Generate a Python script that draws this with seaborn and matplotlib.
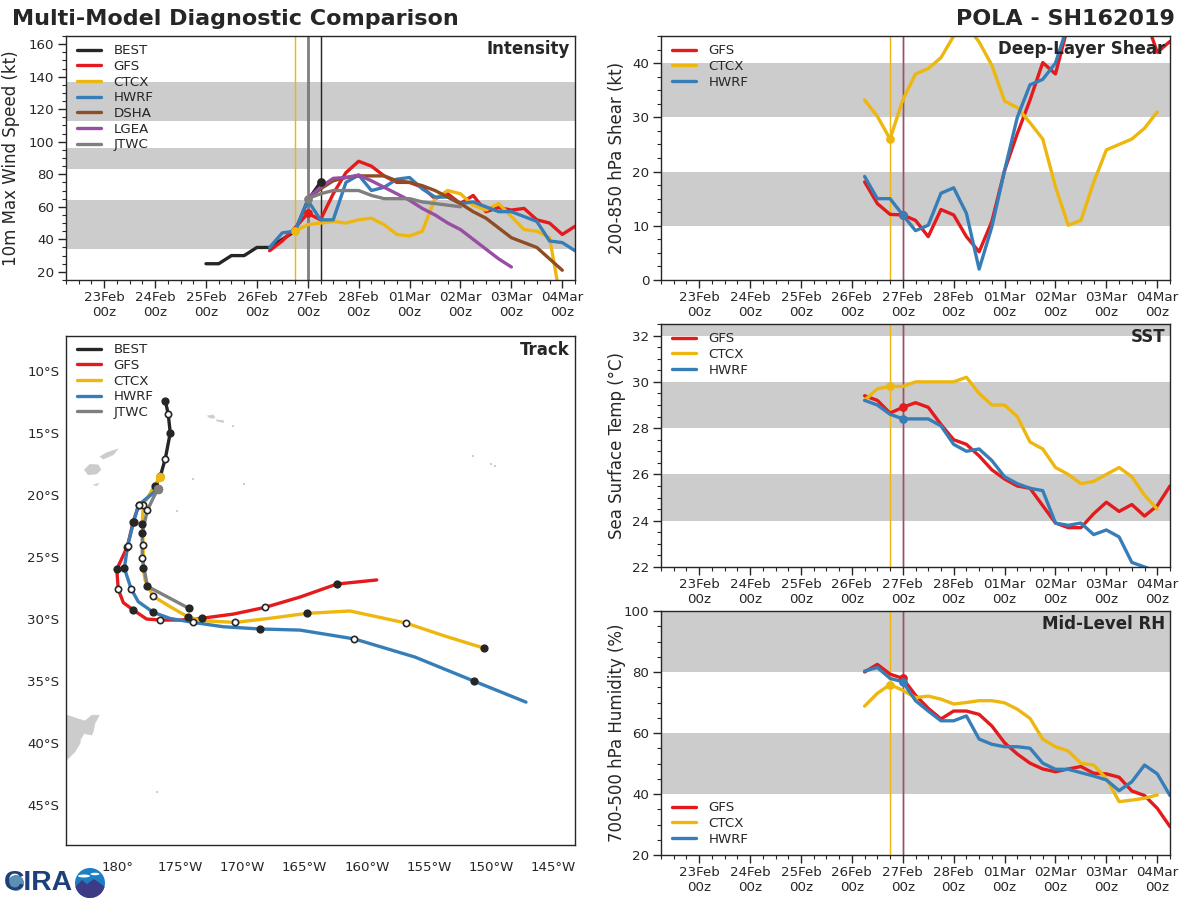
"""
Multi-model diagnostic comparison, POLA SH162019
"""
import numpy as np
import pandas as pd
import seaborn as sns
import matplotlib
matplotlib.use('Agg')
import matplotlib.pyplot as plt
import matplotlib.dates as mdates
from matplotlib.patches import Circle, Ellipse, Polygon
from matplotlib.ticker import MultipleLocator

# ========== intensity (kt), 6-hourly ==========
best_vmax = [25, 25, 30, 30, 35, 35, 40, 45, 64, 75]
gfs_vmax = [33, 39, 47, 56, 52, 68, 81, 88, 85, 79, 75, 75, 72, 65, 68, 62, 67, 57, 59.5, 58, 59, 52, 50, 43, 48]
ctcx_vmax = [45, 49, 50, 51, 50, 52, 53, 49, 43, 42, 45, 65, 70, 68, 61, 58, 62, 54, 46, 45, 41, -3]
hwrf_vmax = [35, 44, 45, 64, 52, 52, 75, 79.5, 70, 72, 77, 78, 71, 66, 66, 62, 63, 60, 57, 57, 54, 51, 39, 38, 33]
dsha_vmax = [65, 71, 76, 78, 79, 79, 79, 76, 75, 73, 70, 66, 62, 57, 53, 47, 41, 38, 35, 28, 21]
lgea_vmax = [65, 72, 77.5, 78, 79.5, 76, 72, 68, 64, 59, 55, 50, 46, 40, 34, 28, 23]
jtwc_vmax = [65, 68, 70, 70, 70, 67, 65, 65, 65, 63, 62, 61, 60]

# ========== shear (kt) ==========
gfs_shear = [18.1, 14.1, 12.1, 12, 11, 8, 13, 12, 8, 5.2, 10.8, 20.2, 27, 33.2, 40.1, 38, 47, 50, 52, 52, 52, 50, 48.7, 42, 44]
ctcx_shear = [33.2, 30.2, 26, 33.2, 38, 39, 41, 45, 47, 43.9, 39.6, 33, 31.8, 29, 26, 17.2, 10.1, 11, 18, 24, 25, 26, 28, 31]
hwrf_shear = [19.1, 15, 15, 12, 9.1, 10.1, 16, 17, 12.3, 2, 9.8, 20.2, 30, 36, 37, 40, 47.3, 52]

# ========== SST (C) ==========
gfs_sst = [29.4, 29.2, 28.65, 28.9, 29.1, 28.9, 28.16, 27.5, 27.3, 26.8, 26.2, 25.8, 25.5, 25.4, 24.65, 23.9, 23.7, 23.7, 24.3, 24.8, 24.4, 24.7, 24.2, 24.65, 25.5]
ctcx_sst = [29.2, 29.7, 29.8, 29.8, 30, 30, 30, 30, 30.2, 29.5, 29, 29, 28.5, 27.4, 27.1, 26.3, 26, 25.6, 25.7, 26, 26.3, 25.9, 25.1, 24.5]
hwrf_sst = [29.2, 29, 28.6, 28.4, 28.4, 28.4, 28.1, 27.3, 27, 27.1, 26.6, 25.9, 25.6, 25.4, 25.3, 23.9, 23.8, 23.9, 23.4, 23.6, 23.3, 22.2, 22, 21.8]

# ========== mid-level RH (%) ==========
gfs_rh = [80, 82.5, 79.3, 77.9, 72.4, 68.1, 64.6, 67.2, 67.2, 66.1, 62.3, 56.8, 53.1, 50.1, 48.2, 47.3, 48.2, 49, 46.8, 46.6, 45.5, 41, 39.5, 35.3, 29.3]
ctcx_rh = [68.8, 73, 75.9, 74, 71.6, 72.1, 71.1, 69.5, 70, 70.6, 70.6, 69.9, 67.8, 64.8, 58, 55.5, 54.1, 50.1, 49.5, 45.1, 37.5, 38, 38.6, 39.7]
hwrf_rh = [80.3, 81.5, 77.9, 76.8, 70.6, 67.2, 64, 64, 65.6, 58, 56.3, 55.5, 55.5, 55, 50.1, 48.1, 48.1, 47, 45.9, 44.6, 41.1, 44, 49.5, 46.6, 39.5]

# ========== tracks, i = init, f = filled dot, o = open dot ==========
best_lon = [183.8, 184.04, 184.2, 183.8, 183.4, 183.0]
best_lat = [-12.4, -13.5, -15.0, -17.1, -18.5, -19.3]
best_mark = "fofoof"

gfs_lon = [183.2, 181.65, 181.23, 180.75, 179.9, 180.02, 180.43, 181.23, 182.3, 183.38, 185.0, 186.73, 189.27, 191.82, 194.63, 197.6, 200.8]
gfs_lat = [-19.5, -20.85, -22.15, -24.17, -26.0, -27.6, -28.68, -29.27, -30.0, -30.08, -30.08, -29.94, -29.6, -29.06, -28.23, -27.18, -26.85]
gfs_mark = "iofofo.f.o.f.o.f."

hwrf_lon = [183.2, 181.65, 181.26, 180.78, 180.51, 181.07, 181.63, 182.84, 184.18, 186.05, 188.46, 191.44, 194.63, 199.0, 203.87, 208.62, 212.8]
hwrf_lat = [-19.5, -20.85, -22.15, -24.09, -25.91, -27.6, -28.6, -29.46, -29.95, -30.27, -30.62, -30.8, -30.89, -31.6, -33.06, -35.0, -36.69]
hwrf_mark = "iofofo.f.o.f.o.f."

ctcx_lon = [183.4, 182.03, 181.95, 182.03, 182.03, 182.17, 182.84, 184.18, 185.65, 186.86, 189.43, 192.2, 195.2, 198.65, 203.15, 206.28, 209.42]
ctcx_lat = [-18.52, -20.8, -22.36, -24.03, -25.91, -26.85, -28.17, -29.0, -29.84, -30.14, -30.27, -29.94, -29.54, -29.35, -30.32, -31.37, -32.34]
ctcx_mark = "iofof.o.f.o.f.o.f"

jtwc_lon = [183.2, 182.36, 181.95, 181.95, 182.36, 185.71]
jtwc_lat = [-19.5, -21.23, -23.09, -25.1, -27.36, -29.14]
jtwc_mark = "iofoff"

# ========== land ==========
land_polys = [
    # New Zealand, north island
    ([175.34, 175.92, 176.68, 177.35, 177.89, 178.5, 178.15, 178.01, 177.89, 177.27, 177.0, 176.95, 176.54, 175.92, 175.34],
     [-37.74, -37.74, -38.0, -38.2, -37.74, -37.74, -38.41, -39.09, -39.35, -39.22, -39.7, -40.02, -40.7, -41.31, -41.85]),
    # Fiji
    ([177.29, 177.75, 178.42, 178.63, 178.29, 177.61], [-17.98, -17.52, -17.58, -17.98, -18.31, -18.39]),
    ([178.55, 179.09, 180.02, 179.62, 178.82], [-16.91, -16.59, -16.29, -16.77, -17.12]),
    ([178.01, 178.47, 178.29], [-19.19, -19.06, -19.27]),
    # Samoa
    ([187.18, 187.66, 187.8, 187.4], [-13.63, -13.55, -13.81, -13.81]),
    ([187.88, 188.47, 188.52, 188.01], [-13.95, -14.0, -14.17, -14.09]),
]
islet_lon = [190.13, 186.0, 184.77, 189.27, 183.13, 210.3, 210.0, 208.5]
islet_lat = [-19.13, -18.7, -21.27, -14.41, -43.95, -17.7, -17.5, -16.9]

# ========== labels ==========
lon_ticks = [180, 185, 190, 195, 200, 205, 210, 215]
lon_labels = ['180°', '175°W', '170°W', '165°W', '160°W', '155°W', '150°W', '145°W']
lat_ticks = [-10, -15, -20, -25, -30, -35, -40, -45]
lat_labels = ['10°S', '15°S', '20°S', '25°S', '30°S', '35°S', '40°S', '45°S']

# ========== styles ==========
COLORS = {'BEST': '#262626', 'GFS': '#e41a1c', 'CTCX': '#eeb70f', 'HWRF': '#377eb8',
          'DSHA': '#8f4d25', 'LGEA': '#984ea3', 'JTWC': '#7f7f7f'}
BAND = '#cccccc'
INK = '#262626'
LW = 3

sns.set_style('ticks')
plt.rcParams['font.family'] = ['DejaVu Sans']
plt.rcParams['text.color'] = INK
plt.rcParams['axes.labelcolor'] = INK
plt.rcParams['xtick.color'] = INK
plt.rcParams['ytick.color'] = INK
plt.rcParams['axes.edgecolor'] = INK

T_INIT = pd.Timestamp('2019-02-27 00:00')
T_CTCX = pd.Timestamp('2019-02-26 18:00')
T_BEST = pd.Timestamp('2019-02-27 06:00')
XMIN = pd.Timestamp('2019-02-22 06:00')
XMAX = pd.Timestamp('2019-03-04 06:00')

fig = plt.figure(figsize=(15, 11.25), dpi=80)


def panel(left, top, right, bottom):
    return fig.add_axes([left / 1200, 1 - bottom / 900, (right - left) / 1200, (bottom - top) / 900])


def times(start, values):
    return pd.date_range(start, periods=len(values), freq='6h')


def series(ax, name, start, values):
    t = times(start, values)
    sns.lineplot(x=t, y=values, ax=ax, color=COLORS[name], lw=LW, label=name, estimator=None)
    return t


def dot(ax, name, t, values, when):
    y = values[list(t).index(when)]
    sns.scatterplot(x=[when], y=[y], ax=ax, color=COLORS[name], s=62, linewidth=0, zorder=6, legend=False)


def add_legend(ax, loc, dy_px):
    # offset from the axes corner given in pixels
    w, h = ax.bbox.width, ax.bbox.height
    y = 1 - dy_px / h if loc.startswith('upper') else dy_px / h
    ax.legend(loc=loc, bbox_to_anchor=(7 / w, y), frameon=False, fontsize=12, handlelength=1.8,
              handletextpad=0.95, labelspacing=0.2, borderpad=0.3, borderaxespad=0)


def finish(ax, ylim, major, ylabel, label_x, title, bands, legend_loc='upper left'):
    for lo, hi in bands:
        ax.axhspan(lo, hi, color=BAND, lw=0, zorder=0)
    ax.set_xlim(XMIN, XMAX)
    ax.set_ylim(*ylim)
    ax.xaxis.set_major_locator(mdates.DayLocator())
    ax.xaxis.set_major_formatter(mdates.DateFormatter('%d%b\n%Hz'))
    ax.xaxis.set_minor_locator(mdates.HourLocator(byhour=[6, 12, 18]))
    ax.yaxis.set_major_locator(MultipleLocator(major))
    ax.yaxis.set_minor_locator(MultipleLocator(major / 4))
    ax.tick_params(axis='both', which='major', length=7, width=1.25, labelsize=12)
    ax.tick_params(axis='x', which='major', pad=3)
    ax.tick_params(axis='both', which='minor', length=4, width=1.0)
    ax.set_xlabel('')
    ax.set_ylabel(ylabel, fontsize=15)
    ax.yaxis.set_label_coords(label_x, 0.5)
    ax.text(0.99, 0.985, title, transform=ax.transAxes, ha='right', va='top',
            fontsize=15, fontweight='bold', zorder=10)
    add_legend(ax, legend_loc, 4.3 if legend_loc.startswith('upper') else 5.3)
    for s in ax.spines.values():
        s.set_visible(True)
        s.set_linewidth(1.25)
        s.set_zorder(12)


# ========== intensity ==========
ax = panel(66, 36, 575, 280)
for when, name in [(T_CTCX, 'CTCX'), (T_INIT, 'GFS'), (T_INIT, 'LGEA'), (T_INIT, 'JTWC'), (T_BEST, 'BEST')]:
    ax.axvline(when, color=COLORS[name], lw=1.3, zorder=1)
ax.axvline(T_INIT, color=INK, lw=1.3, zorder=1)
ax.axvline(T_INIT, color=COLORS['JTWC'], lw=1.3, zorder=1)
t_best = series(ax, 'BEST', '2019-02-25 00:00', best_vmax)
t_gfs = series(ax, 'GFS', '2019-02-26 06:00', gfs_vmax)
t_ctcx = series(ax, 'CTCX', '2019-02-26 18:00', ctcx_vmax)
t_hwrf = series(ax, 'HWRF', '2019-02-26 06:00', hwrf_vmax)
series(ax, 'DSHA', '2019-02-27 00:00', dsha_vmax)
series(ax, 'LGEA', '2019-02-27 00:00', lgea_vmax)
t_jtwc = series(ax, 'JTWC', '2019-02-27 00:00', jtwc_vmax)
dot(ax, 'BEST', t_best, best_vmax, T_BEST)
dot(ax, 'GFS', t_gfs, gfs_vmax, T_INIT)
dot(ax, 'CTCX', t_ctcx, ctcx_vmax, T_CTCX)
dot(ax, 'JTWC', t_jtwc, jtwc_vmax, T_INIT)
finish(ax, (15, 165), 20, '10m Max Wind Speed (kt)', -0.0905, 'Intensity', [(34, 64), (83, 96), (113, 137)])

# ========== right-hand panels ==========
right_panels = [
    ((661, 36, 1170, 280), gfs_shear, ctcx_shear, hwrf_shear, (0, 45), 10, '200-850 hPa Shear (kt)',
     'Deep-Layer Shear', [(10, 20), (30, 40)], 'upper left'),
    ((661, 324, 1170, 567), gfs_sst, ctcx_sst, hwrf_sst, (22, 32.5), 2, 'Sea Surface Temp (°C)',
     'SST', [(24, 26), (28, 30), (32, 34)], 'upper left'),
    ((661, 611, 1170, 855), gfs_rh, ctcx_rh, hwrf_rh, (20, 100), 20, '700-500 hPa Humidity (%)',
     'Mid-Level RH', [(40, 60), (80, 100)], 'lower left'),
]
for box, gfs, ctcx, hwrf, ylim, major, ylabel, title, bands, loc in right_panels:
    ax = panel(*box)
    ax.axvline(T_CTCX, color=COLORS['CTCX'], lw=1.3, zorder=1)
    ax.axvline(T_INIT, color=COLORS['GFS'], lw=1.3, zorder=1)
    ax.axvline(T_INIT, color=COLORS['HWRF'], lw=1.3, alpha=0.7, zorder=1)
    t_gfs = series(ax, 'GFS', '2019-02-26 06:00', gfs)
    t_ctcx = series(ax, 'CTCX', '2019-02-26 06:00', ctcx)
    t_hwrf = series(ax, 'HWRF', '2019-02-26 06:00', hwrf)
    dot(ax, 'GFS', t_gfs, gfs, T_INIT)
    dot(ax, 'CTCX', t_ctcx, ctcx, T_CTCX)
    dot(ax, 'HWRF', t_hwrf, hwrf, T_INIT)
    finish(ax, ylim, major, ylabel, -0.069, title, bands, loc)

# ========== track ==========
ax = panel(66, 336, 575, 845)
for lons, lats in land_polys:
    ax.add_patch(Polygon(np.column_stack([lons, lats]), closed=True, fc=BAND, ec=BAND, lw=0.4, zorder=1))
sns.scatterplot(x=islet_lon, y=islet_lat, ax=ax, color=BAND, s=5, marker='s', linewidth=0, legend=False, zorder=1)

tracks = [('BEST', best_lon, best_lat, best_mark), ('GFS', gfs_lon, gfs_lat, gfs_mark),
          ('CTCX', ctcx_lon, ctcx_lat, ctcx_mark), ('HWRF', hwrf_lon, hwrf_lat, hwrf_mark),
          ('JTWC', jtwc_lon, jtwc_lat, jtwc_mark)]
for z, (name, lons, lats, marks) in enumerate(tracks):
    df = pd.DataFrame({'lon': lons, 'lat': lats, 'mark': list(marks)})
    sns.lineplot(data=df, x='lon', y='lat', ax=ax, sort=False, estimator=None, color=COLORS[name],
                 lw=LW, label=name, zorder=3 + z)
    sns.scatterplot(data=df[df['mark'] == 'f'], x='lon', y='lat', ax=ax, color=INK, s=55,
                    linewidth=0, legend=False, zorder=10)
    sns.scatterplot(data=df[df['mark'] == 'o'], x='lon', y='lat', ax=ax, color='white', s=32,
                    edgecolor=INK, linewidth=1.5, legend=False, zorder=11)
    sns.scatterplot(data=df[df['mark'] == 'i'], x='lon', y='lat', ax=ax, color=COLORS[name], s=70,
                    linewidth=0, legend=False, zorder=12 + z)

ax.set_xlim(175.82, 216.74)
ax.set_ylim(-48.2, -7.2)
ax.set_xticks(lon_ticks)
ax.set_xticklabels(lon_labels)
ax.set_yticks(lat_ticks)
ax.set_yticklabels(lat_labels)
ax.tick_params(axis='x', length=0, labelsize=12, pad=14)
ax.tick_params(axis='y', length=0, labelsize=12, pad=6)
ax.set_xlabel('')
ax.set_ylabel('')
ax.text(0.99, 0.99, 'Track', transform=ax.transAxes, ha='right', va='top', fontsize=15, fontweight='bold')
add_legend(ax, 'upper left', 3.3)
for s in ax.spines.values():
    s.set_visible(True)
    s.set_linewidth(1.25)

# ========== titles and logo ==========
fig.text(12 / 1200, 1 - 19 / 900, 'Multi-Model Diagnostic Comparison', fontsize=20, fontweight='bold', va='center')
fig.text(1175 / 1200, 1 - 19 / 900, 'POLA - SH162019', fontsize=20, fontweight='bold', va='center', ha='right')

logo = fig.add_axes([0, 0, 110 / 1200, 34 / 900])
logo.set_xlim(0, 110)
logo.set_ylim(0, 34)
logo.axis('off')
logo.add_patch(Circle((16, 17), 8, fc='#5d8fb5', ec='none'))
logo.text(4, 16.5, 'CIRA', fontsize=25.5, fontweight='bold', family='Liberation Sans', color='#1f3f7a', va='center')
disc = Circle((90, 17), 15, fc='#1c7fc4', ec='none')
logo.add_patch(disc)
for xy, wh in [((84, 24), (12, 3)), ((95, 26), (9, 2.5))]:
    logo.add_patch(Ellipse(xy, wh[0], wh[1], fc='white', ec='none'))
hills = Polygon([(75, 13), (82, 20), (87, 16), (94, 21), (105, 13), (105, 2), (75, 2)], closed=True, fc='#3d3a86', ec='none')
logo.add_patch(hills)
hills.set_clip_path(disc)

fig.savefig('out.png', dpi=80)
